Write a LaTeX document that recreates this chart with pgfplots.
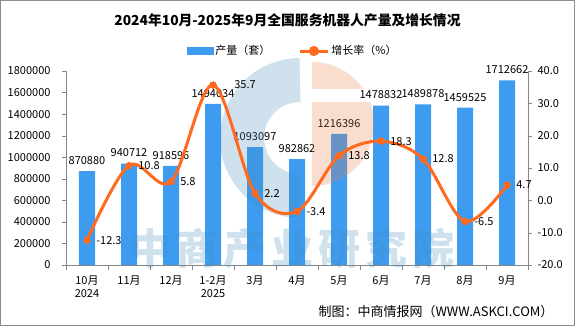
\documentclass[border=0pt]{standalone}
\usepackage{fontspec}
\setmainfont{Noto Sans CJK SC}
\usepackage{pgfplots}
\pgfplotsset{compat=1.18}
\usepackage{pgfplotstable}

\definecolor{barblue}{HTML}{3E9CF0}
\definecolor{lineorange}{HTML}{FF6A1F}
\definecolor{axisgray}{HTML}{868686}
\definecolor{wmblue}{RGB}{63,139,187}
\definecolor{wmpeach}{RGB}{235,123,67}

\pgfplotstableread{
x y
0 870880
1 940712
2 918596
3 1494034
4 1093097
5 982862
6 1216396
7 1478832
8 1489878
9 1459525
10 1712662
}\bardata

\pgfplotstableread{
x g dx
0 -12.3 0
1 10.8 0
2 5.8 0
3 35.7 12
4 2.2 0
5 -3.4 0
6 13.8 0
7 18.3 0
8 12.8 0
9 -6.5 0
10 4.7 0
}\linedata

\newcommand{\lbl}{\fontsize{11}{13}\selectfont}

\begin{document}
\begin{tikzpicture}[x=1pt,y=1pt]
\fill[white] (0,0) rectangle (575,326);
\draw[color=black!45, line width=1pt] (0.5,0.5) rectangle (574.5,325.5);
\node[font=\bfseries\fontsize{13.8}{16}\selectfont] at (287.5,305.5) {2024年10月-2025年9月全国服务机器人产量及增长情况};

\begin{axis}[
  at={(66pt,61pt)}, anchor=south west, scale only axis,
  width=462pt, height=194pt,
  xmin=-0.5, xmax=10.5, ymin=0, ymax=1800000,
  axis x line*=bottom, axis y line*=left,
  axis line style={axisgray},
  tick style={axisgray},
  tick align=outside,
  major tick length=4pt, minor tick length=5pt,
  ytick={0,200000,400000,600000,800000,1000000,1200000,1400000,1600000,1800000},
  scaled y ticks=false,
  /pgf/number format/fixed, /pgf/number format/1000 sep={},
  /pgf/number format/assume math mode=true,
  yticklabel style={font=\lbl, xshift=-8pt},
  xtick={0,...,10},
  xticklabels={10月\\2024,11月,12月,1-2月\\2025,3月,4月,5月,6月,7月,8月,9月},
  xticklabel style={font=\lbl, align=center, yshift=-3.5pt},
  major x tick style={draw=none},
  minor xtick={-0.5,0.5,...,10.5},
  clip=false,
]
\addplot[ybar, bar width=16pt, fill=barblue, draw=none,
  nodes near coords,
  every node near coord/.append style={font=\lbl, black, yshift=3pt}]
  table[x=x,y=y]{\bardata};
\end{axis}

% watermark logo
\draw[wmblue, opacity=0.25, line width=44pt] (300,188) ++(90:58) arc (90:270:58);
\begin{scope}
\clip (312,202) -- ++(90:62) arc (90:-90:62) -- cycle;
\fill[wmpeach, opacity=0.25] (312,130) rectangle (380,224);
\fill[wmpeach, opacity=0.25] (312,237) rectangle (380,275);
\end{scope}
\node[text=wmblue, opacity=0.25, font=\bfseries\fontsize{42}{42}\selectfont\addfontfeature{LetterSpace=12}] at (292,77) {中商产业研究院};

\begin{axis}[
  at={(66pt,61pt)}, anchor=south west, scale only axis,
  width=462pt, height=194pt,
  xmin=-0.5, xmax=10.5, ymin=-20, ymax=40,
  axis x line=none, axis y line*=right,
  axis line style={axisgray},
  tick style={axisgray},
  tick align=outside, major tick length=4pt,
  ytick={-20,-10,0,10,20,30,40},
  /pgf/number format/fixed, /pgf/number format/fixed zerofill,
  /pgf/number format/precision=1,
  /pgf/number format/assume math mode=true,
  yticklabel style={font=\lbl, xshift=2pt},
  clip=false,
  legend style={at={(0.255,1.103)}, anchor=west, draw=none, fill=none,
    font=\lbl, legend columns=2,
    /tikz/every even column/.append style={column sep=26pt}},
]
\addlegendimage{legend image code/.code={\fill[barblue] (0pt,-3.5pt) rectangle (26pt,3.5pt);}}
\addlegendentry{产量（套）}
\addplot[lineorange, line width=3pt, smooth, tension=0.55,
  mark=*, mark size=3.2pt, mark options={fill=lineorange, draw=lineorange, line width=0pt},
  legend image code/.code={\draw[lineorange, line width=3pt] (0pt,0pt) -- (28pt,0pt); \fill[lineorange] (14pt,0pt) circle (3.5pt);},
  nodes near coords,
  visualization depends on={\thisrow{dx} \as \dx},
  every node near coord/.append style={font=\lbl, black, anchor=west, xshift={6pt+\dx pt}}]
  table[x=x,y=g]{\linedata};
\addlegendentry{增长率（\%）}
\end{axis}

\node[anchor=east, font=\fontsize{13}{15}\selectfont] at (557,14) {制图：中商情报网（WWW.ASKCI.COM）};
\end{tikzpicture}
\end{document}
